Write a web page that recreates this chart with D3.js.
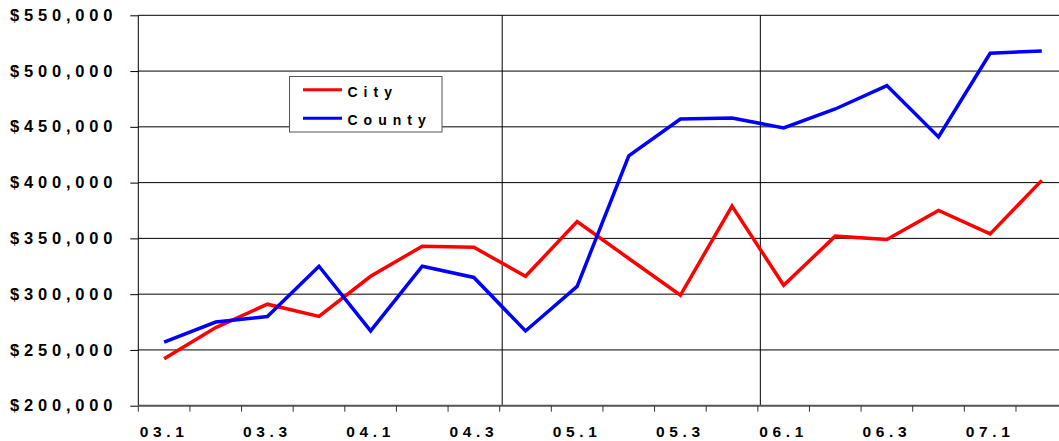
<!DOCTYPE html>
<html>
<head>
<meta charset="utf-8">
<script src="https://cdn.jsdelivr.net/npm/d3@7"></script>
<style>
  html, body { margin: 0; padding: 0; background: #fff; }
  svg { display: block; }
  text { font-family: Arial, "Liberation Sans", sans-serif; font-weight: bold; fill: #000; }
</style>
</head>
<body>
<svg id="chart" width="1059" height="441"></svg>
<script>
// Quarterly median price, city vs county
const quarters = ["03.1","03.2","03.3","03.4","04.1","04.2","04.3","04.4",
                  "05.1","05.2","05.3","05.4","06.1","06.2","06.3","06.4",
                  "07.1","07.2"];
const cityValues = [242000, 270000, 291000, 280000, 316000, 343000, 342000, 316000,
                    365000, 332000, 299000, 379000, 308000, 352000, 349000, 375000,
                    354000, 402000];
const countyValues = [257000, 275000, 280000, 325000, 267000, 325000, 315000, 267000,
                      307000, 424000, 457000, 458000, 449000, 466000, 487000, 441000,
                      516000, 518000];
const yTicks = [200000, 250000, 300000, 350000, 400000, 450000, 500000, 550000];
const xLabelQuarters = ["03.1","03.3","04.1","04.3","05.1","05.3","06.1","06.3","07.1"];
const dividerAfter = ["04.3", "05.4"];
const seriesNames = ["City", "County"];
const seriesColors = ["#ff0000", "#0000ff"];

const svg = d3.select("#chart");

const plotLeft = 138.3, plotRight = 1067.6, plotTop = 15.3, plotBottom = 405.7;

const x = d3.scaleBand().domain(quarters).range([plotLeft, plotRight]).padding(0);
const y = d3.scaleLinear().domain([200000, 550000]).range([plotBottom, plotTop]);
const cx = q => x(q) + x.bandwidth() / 2;

// horizontal gridlines
svg.append("g").selectAll("line").data(yTicks.slice(1)).join("line")
  .attr("x1", plotLeft).attr("x2", plotRight)
  .attr("y1", d => y(d)).attr("y2", d => y(d))
  .attr("stroke", "#000").attr("stroke-width", 1);

// vertical dividers
svg.append("g").selectAll("line").data(dividerAfter).join("line")
  .attr("x1", d => x(d) + x.bandwidth() + 2.5).attr("x2", d => x(d) + x.bandwidth() + 2.5)
  .attr("y1", plotTop).attr("y2", plotBottom)
  .attr("stroke", "#000").attr("stroke-width", 1);

// y axis
const yAxis = d3.axisLeft(y).tickValues(yTicks).tickSize(8).tickFormat("");
const gy = svg.append("g").attr("transform", `translate(${plotLeft},0)`).call(yAxis);
gy.select(".domain").attr("d", `M0,${plotTop}V${plotBottom}`).attr("stroke", "#000");
gy.selectAll(".tick line").attr("stroke", "#000");

const fmt = d3.format(",");
svg.append("g").selectAll("text").data(yTicks).join("text")
  .attr("x", 10).attr("y", d => y(d) + 5.6)
  .attr("font-size", 16.5).attr("letter-spacing", 4.8)
  .text(d => "$" + fmt(d));

// x axis: ticks at category boundaries
const boundaries = quarters.map(q => x(q)).concat([plotRight]);
const gx = svg.append("g");
gx.append("line").attr("x1", plotLeft).attr("x2", plotRight).attr("y1", plotBottom).attr("y2", plotBottom)
  .attr("stroke", "#555").attr("stroke-width", 2);
gx.selectAll("line.tk").data(boundaries).join("line").attr("class", "tk")
  .attr("x1", d => d).attr("x2", d => d)
  .attr("y1", plotBottom).attr("y2", plotBottom + 6)
  .attr("stroke", "#333").attr("stroke-width", 1);
gx.selectAll("text").data(xLabelQuarters).join("text")
  .attr("x", d => cx(d)).attr("y", 436.7)
  .attr("text-anchor", "middle")
  .attr("font-size", 15.5).attr("letter-spacing", 4.6)
  .text(d => d);

// data lines
const line = d3.line().x((d, i) => cx(quarters[i])).y(d => y(d));
[cityValues, countyValues].forEach((vals, i) => {
  svg.append("path").datum(vals)
    .attr("d", line)
    .attr("fill", "none")
    .attr("stroke", seriesColors[i])
    .attr("stroke-width", 3.5)
    .attr("stroke-linejoin", "miter");
});

// legend
const lg = svg.append("g");
lg.append("rect").attr("x", 289.5).attr("y", 76.5).attr("width", 152.5).attr("height", 55.5)
  .attr("fill", "#fff").attr("stroke", "#555").attr("stroke-width", 1);
const legendRowY = [89.7, 118.3];
seriesNames.forEach((name, i) => {
  lg.append("line").attr("x1", 303).attr("x2", 342)
    .attr("y1", legendRowY[i]).attr("y2", legendRowY[i])
    .attr("stroke", seriesColors[i]).attr("stroke-width", 3);
  lg.append("text").attr("x", 347.5).attr("y", legendRowY[i] + 6.9)
    .attr("font-size", 14).attr("letter-spacing", 6)
    .text(name);
});
</script>
</body>
</html>
